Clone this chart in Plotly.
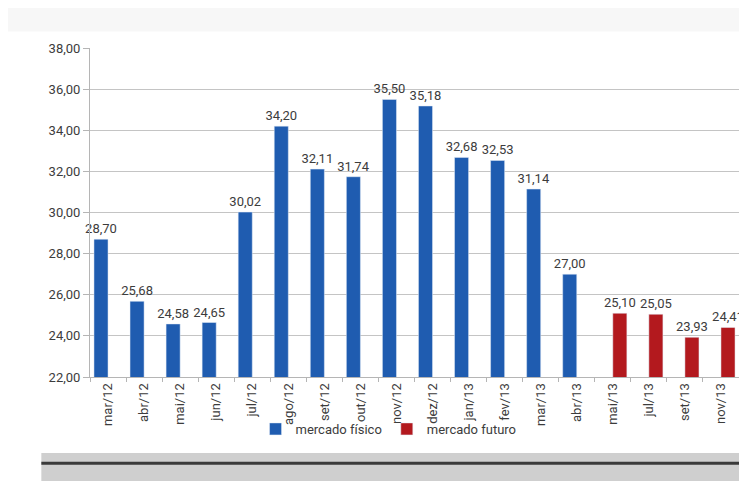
import plotly.graph_objects as go

categories = ["mar/12", "abr/12", "mai/12", "jun/12", "jul/12", "ago/12", "set/12",
              "out/12", "nov/12", "dez/12", "jan/13", "fev/13", "mar/13", "abr/13",
              "mai/13", "jul/13", "set/13", "nov/13"]
fisico_vals = [28.70, 25.68, 24.58, 24.65, 30.02, 34.20, 32.11, 31.74, 35.50, 35.18,
               32.68, 32.53, 31.14, 27.00, None, None, None, None]
futuro_vals = [None] * 14 + [25.10, 25.05, 23.93, 24.41]
y_ticks = [22, 24, 26, 28, 30, 32, 34, 36, 38]

FONT = "Roboto, Open Sans, sans-serif"
TXT = "#3c3c3c"

fig = go.Figure()
fig.add_trace(go.Bar(
    x=categories, y=fisico_vals, name="mercado físico",
    marker=dict(color="#1f5cb0"),
    texttemplate="%{y:.2f}", textposition="outside", cliponaxis=False,
    constraintext="none",
    textfont=dict(size=13, color=TXT, family=FONT),
))
fig.add_trace(go.Bar(
    x=categories, y=futuro_vals, name="mercado futuro",
    marker=dict(color="#b3191e"),
    texttemplate="%{y:.2f}", textposition="outside", cliponaxis=False,
    constraintext="none",
    textfont=dict(size=13, color=TXT, family=FONT),
))

fig.update_layout(
    width=739, height=477,
    margin=dict(l=82, r=8, t=40, b=108),
    paper_bgcolor="white", plot_bgcolor="white",
    separators=",.",
    barmode="group", bargap=0.22, bargroupgap=0,
    font=dict(family=FONT, color=TXT, size=13),
    legend=dict(orientation="h", x=0.46, xanchor="center", y=-0.158, yanchor="middle",
                font=dict(size=13, family=FONT, color=TXT),
                bgcolor="rgba(0,0,0,0)"),
    xaxis=dict(
        categoryorder="array", categoryarray=categories,
        tickangle=-90, tickfont=dict(size=13, family=FONT, color=TXT),
        showline=True, linecolor="#b5b5b5", linewidth=1,
        ticks="outside", ticklen=4, tickcolor="#b5b5b5", tickson="boundaries",
        showgrid=False,
    ),
    yaxis=dict(
        range=[22, 38], tickvals=y_ticks, tickformat=".2f",
        tickfont=dict(size=13, family=FONT, color=TXT),
        showgrid=True, gridcolor="#c4c4c4", gridwidth=1,
        showline=True, linecolor="#b5b5b5", linewidth=1,
        ticks="outside", ticklen=6, tickcolor="#b5b5b5",
        zeroline=False,
    ),
    shapes=[
        dict(type="rect", xref="paper", yref="paper", x0=-0.2, x1=1.05,
             y0=1.05, y1=1.2, fillcolor="#f7f7f7", line=dict(width=0), layer="below"),
        dict(type="rect", xref="paper", yref="paper", x0=-0.075, x1=1.05,
             y0=-0.316, y1=-0.231, fillcolor="#a8a8a8", line=dict(width=0), opacity=0.55,
             layer="below"),
        dict(type="line", xref="paper", yref="paper", x0=-0.075, x1=1.05,
             y0=-0.262, y1=-0.262, line=dict(color="#3a3a3a", width=3)),
    ],
)

fig.write_html("out.html")
